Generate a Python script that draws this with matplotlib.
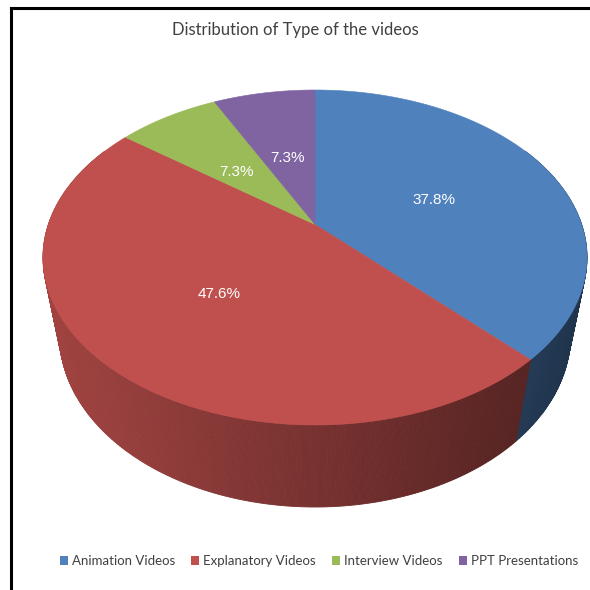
import numpy as np
import matplotlib
matplotlib.use("Agg")
import matplotlib.pyplot as plt
from matplotlib.patches import Polygon, Rectangle
from matplotlib.lines import Line2D

# ---- data -------------------------------------------------------------
title = "Distribution of Type of the videos"
categories = ["Animation Videos", "Explanatory Videos", "Interview Videos", "PPT Presentations"]
counts = [31, 39, 6, 6]
colors = ["#4f81bd", "#c0504d", "#9bbb59", "#8064a2"]

# ---- layout (pixel space, y downwards) -------------------------------
W = H = 590
BOX_L, BOX_R, BOX_T, BOX_B = 43, 587, 90, 425   # extent of the top face
ELEV = np.radians(38.0)                          # camera elevation
DIST = 4.0                                       # camera distance (pie radius = 1)
THICK = 0.405                                    # pie thickness (pie radius = 1)
LABEL_R = 0.5
LABEL_DY = 5
TITLE_FONT = ["Lato", "DejaVu Sans"]
LABEL_FONT = ["Liberation Sans", "DejaVu Sans"]
TEXT_GREY = "#404040"


def project(theta_deg, r=1.0, z=0.0):
    """Perspective projection of a point on the pie (clockwise angle from the back)."""
    th = np.radians(theta_deg)
    X = r * np.sin(th)
    Y = r * np.cos(th)
    depth = Y * np.cos(ELEV) + DIST - z * np.sin(ELEV)
    sx = X / depth
    sy = (Y * np.sin(ELEV) + z * np.cos(ELEV)) / depth
    return sx, sy, depth


# fit the projected top face into its pixel box
_t = np.linspace(0, 360, 1441)
_sx, _sy, _ = project(_t)
KX = (BOX_R - BOX_L) / (_sx.max() - _sx.min())
KY = (BOX_B - BOX_T) / (_sy.max() - _sy.min())
OX = BOX_L - _sx.min() * KX
OY = BOX_T + _sy.max() * KY


def to_px(theta_deg, r=1.0, z=0.0):
    sx, sy, d = project(theta_deg, r, z)
    return OX + sx * KX, OY - sy * KY, d


fig = plt.figure(figsize=(W / 100, H / 100), dpi=100)
fig.patch.set_facecolor("white")
ax = fig.add_axes([0, 0, 1, 1])
ax.set_xlim(0, W)
ax.set_ylim(H, 0)
ax.axis("off")


def shade(hex_color, x):
    # side walls darken from left to right
    f = np.interp(x, [BOX_L, BOX_R], [0.84, 0.40])
    rgb = np.array(matplotlib.colors.to_rgb(hex_color))
    return tuple(np.clip(rgb * f, 0, 1))


fractions = np.array(counts, dtype=float) / sum(counts)
bounds = np.concatenate([[0.0], np.cumsum(fractions) * 360.0])

# side walls, painted far to near
strips = []
for i, c in enumerate(colors):
    t0, t1 = max(bounds[i], 60.0), min(bounds[i + 1], 300.0)
    if t1 <= t0:
        continue
    ths = np.linspace(t0, t1, max(3, int((t1 - t0) * 2)))
    for a, b in zip(ths[:-1], ths[1:]):
        xa, ya, da = to_px(a)
        xb, yb, db = to_px(b)
        xa2, ya2, _ = to_px(a, z=-THICK)
        xb2, yb2, _ = to_px(b, z=-THICK)
        col = shade(c, (xa + xb) / 2)
        strips.append(((da + db) / 2, [(xa, ya), (xb, yb), (xb2, yb2), (xa2, ya2)], col))
for _, pts, col in sorted(strips, key=lambda s: -s[0]):
    ax.add_patch(Polygon(pts, closed=True, facecolor=col, edgecolor=col, lw=0.6, zorder=1))

# top faces
cx, cy, _ = to_px(0.0, r=0.0)
for i, c in enumerate(colors):
    ths = np.linspace(bounds[i], bounds[i + 1], max(3, int((bounds[i + 1] - bounds[i]) * 2)))
    rx, ry, _ = to_px(ths)
    pts = [(cx, cy)] + list(zip(rx, ry))
    ax.add_patch(Polygon(pts, closed=True, facecolor=c, edgecolor=c, lw=0.4, zorder=2))

# percentage labels
for i, frac in enumerate(fractions):
    x, y, _ = to_px((bounds[i] + bounds[i + 1]) / 2, r=LABEL_R)
    ax.text(x, y + LABEL_DY, f"{frac * 100:.1f}%", ha="center", va="center", color="white",
            fontsize=11, family=LABEL_FONT, zorder=3)

# title
fig.text(295 / W, 1 - 30 / H, title, ha="center", va="center", fontsize=12,
         color=TEXT_GREY, family=TITLE_FONT)

# legend
handles = [Rectangle((0, 0), 1, 1, facecolor=c, edgecolor="none") for c in colors]
fig.legend(handles, categories, loc="center", bbox_to_anchor=(319 / W, 1 - 561 / H),
           ncol=4, frameon=False, handlelength=0.6, handleheight=0.6,
           handletextpad=0.3, columnspacing=1.25,
           prop={"family": TITLE_FONT, "size": 9.5}, labelcolor=TEXT_GREY)

# frame lines on top and left
fig.add_artist(Line2D([11 / W, 1], [1 - 8 / H, 1 - 8 / H], transform=fig.transFigure,
                      color="black", lw=2.2))
fig.add_artist(Line2D([11 / W, 11 / W], [0, 1 - 8 / H], transform=fig.transFigure,
                      color="black", lw=2.2))

fig.savefig("out.png", dpi=100)
